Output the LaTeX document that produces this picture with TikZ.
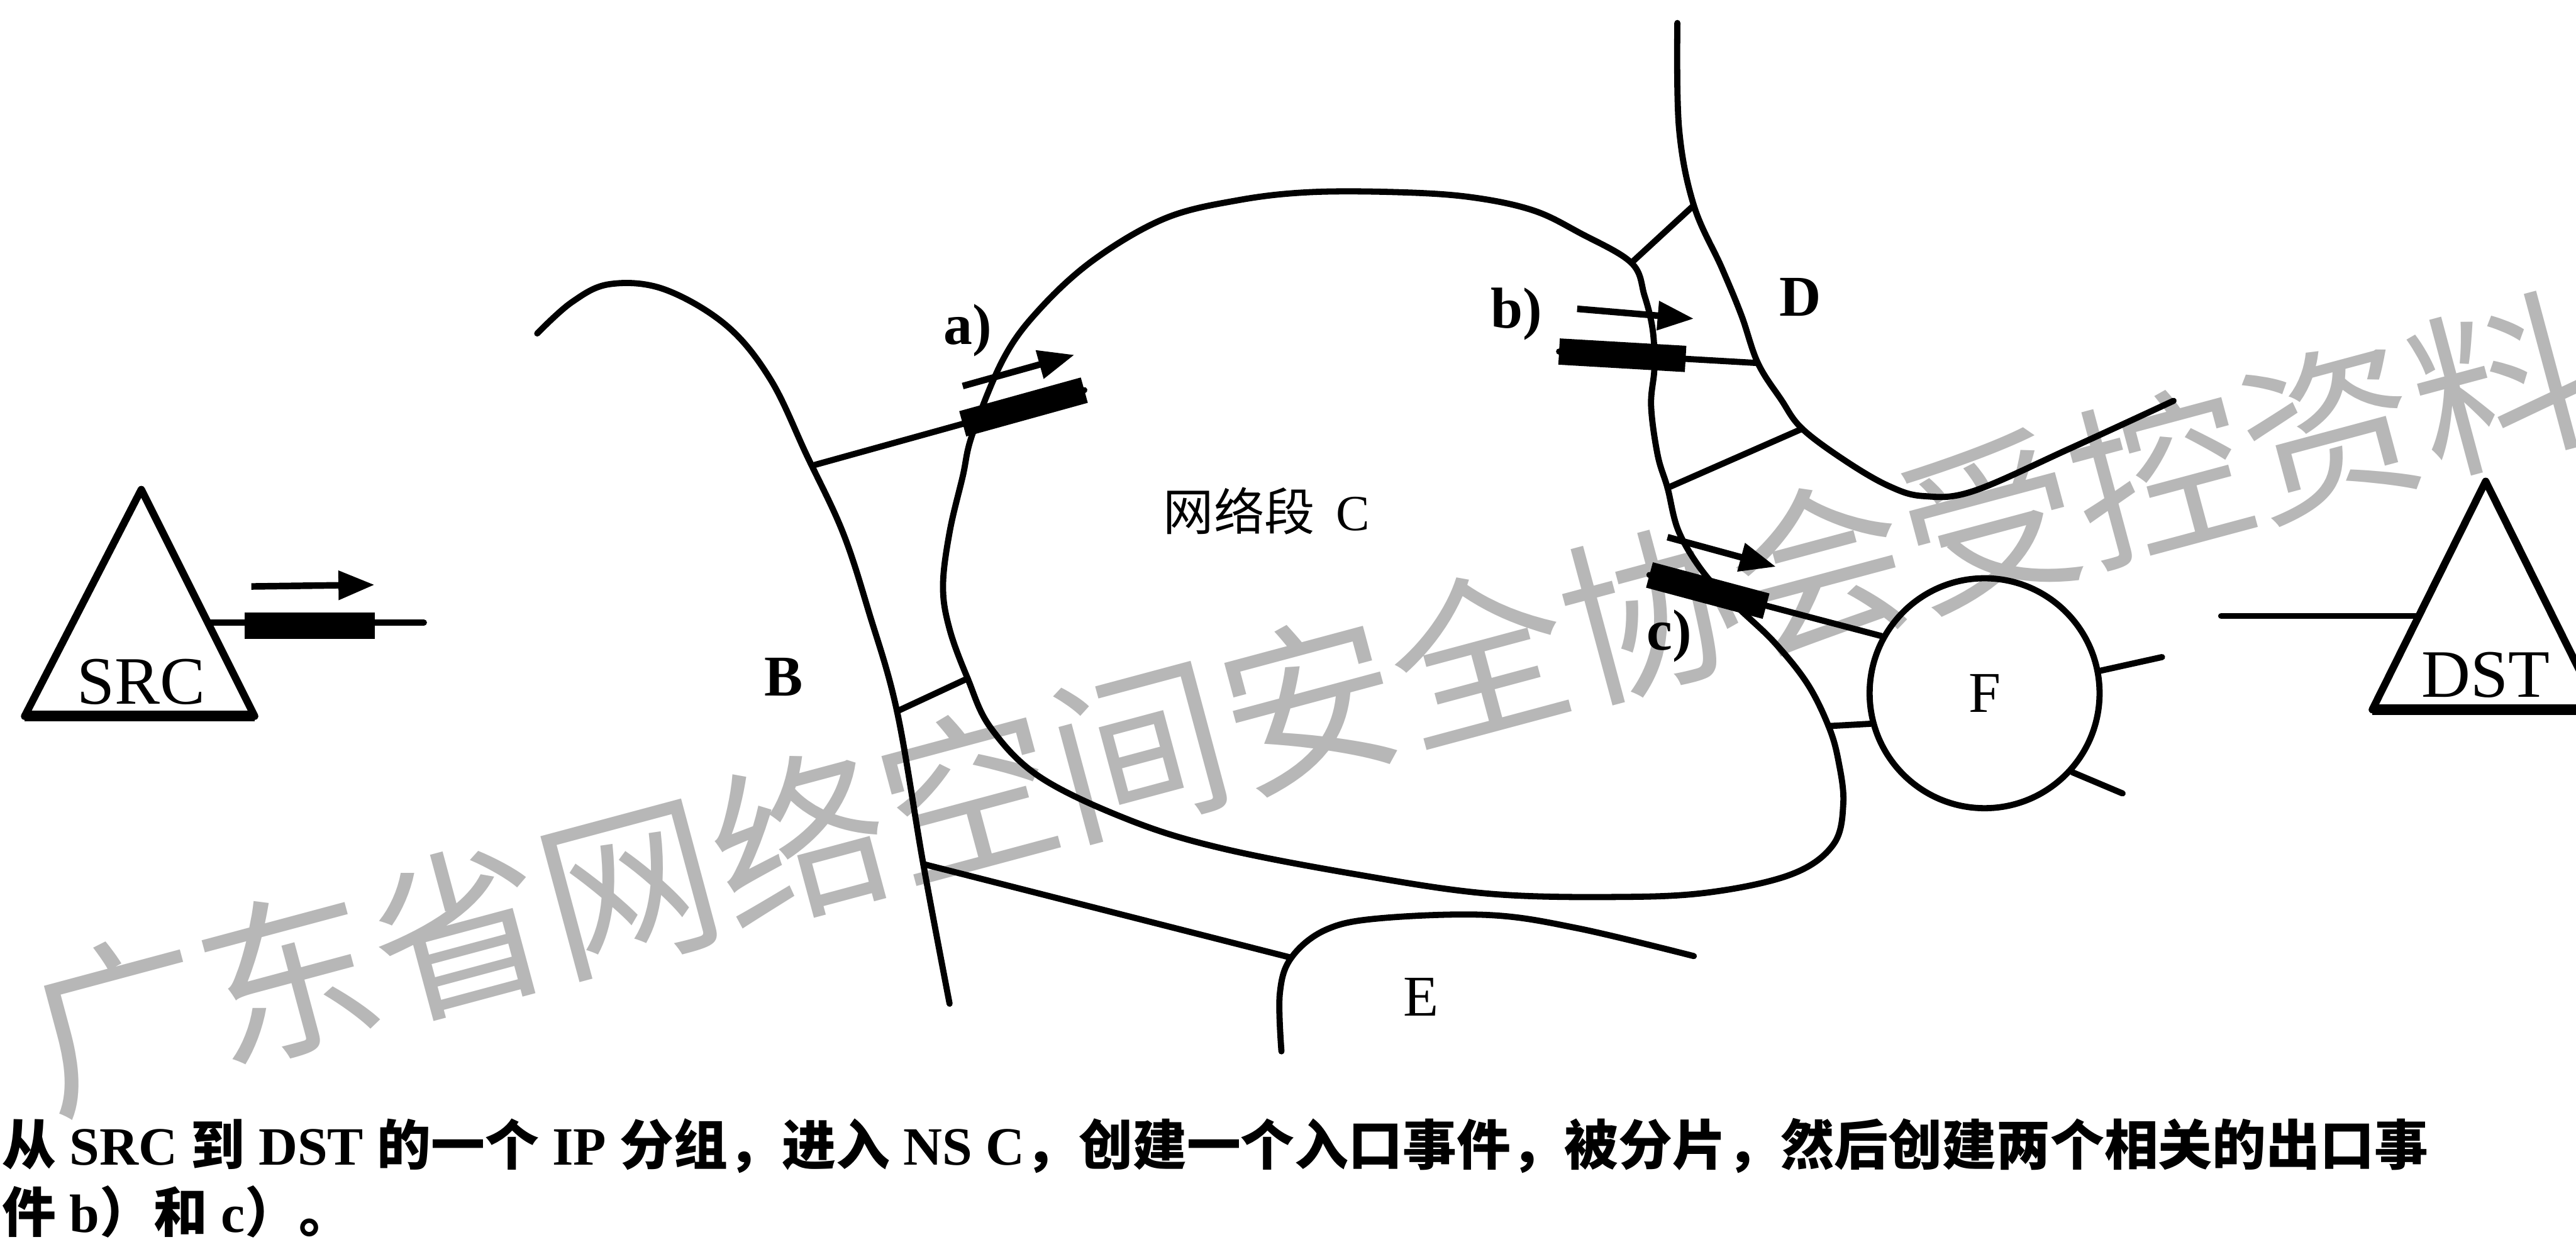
\documentclass[tikz,border=0pt]{standalone}
\usepackage{fontspec}
\setmainfont{Liberation Serif}
\newfontfamily\cjk{Noto Sans CJK SC}
\usetikzlibrary{arrows.meta}
\definecolor{wm}{RGB}{183,183,183}
\newcommand\zh[1]{{\cjk #1}}
\begin{document}
\begin{tikzpicture}[x=0.02cm,y=-0.02cm,
  ln/.style={line width=0.075cm, line cap=round, line join=round},
  trio/.style={line width=0.09cm, line join=round},
  thickbar/.style={line width=0.32cm},
  flow/.style={line width=0.08cm, -{Triangle[length=0.44cm,width=0.34cm]}},
  lab/.style={font=\fontsize{20}{24}\selectfont\bfseries, inner sep=0},
  labr/.style={font=\fontsize{20}{24}\selectfont, inner sep=0},
  ep/.style={font=\fontsize{23.5}{28}\selectfont, inner sep=0},
  captxt/.style={font=\bfseries\fontsize{18.7}{22}\selectfont, inner sep=0, anchor=base west},
  wmk/.style={font=\cjk\fontsize{61}{61}\selectfont, text=wm, inner sep=0}]
\clip (0,0) rectangle (1568,756);
\fill[white] (0,0) rectangle (1568,756);

% watermark
\node[wmk, rotate=15] (wmark) at (797,428) {广东省网络空间安全协会受控资料};

% ---------- SRC ----------
\coordinate (srcA) at (86,298);
\coordinate (srcL) at (15,436);
\coordinate (srcR) at (155,436);
\draw[trio] (srcA) -- (srcL) -- (srcR) -- cycle;
\draw[line width=0.13cm] (srcL) -- (srcR);
\node[ep] (src) at (86,415) {SRC};
\coordinate (srcP) at (126.5,379);
\coordinate (srcE) at (258,379);
\draw[ln] (srcP) -- (srcE);
\draw[thickbar] (149,381) -- (228,381);
\coordinate (srcF1) at (153,357);
\coordinate (srcF2) at (228,356);
\draw[flow] (srcF1) -- (srcF2);

% ---------- DST ----------
\coordinate (dstA) at (1513,293);
\coordinate (dstL) at (1444,432);
\coordinate (dstR) at (1582,432);
\draw[trio] (dstA) -- (dstL) -- (dstR) -- cycle;
\draw[line width=0.13cm] (dstL) -- (dstR);
\node[ep] (dst) at (1513,411) {DST};
\coordinate (dstP) at (1472,375);
\coordinate (dstE) at (1352,375);
\draw[ln] (dstE) -- (dstP);

% ---------- region B ----------
\coordinate (Bj1) at (496,283);
\coordinate (Bj2) at (546,433);
\coordinate (Bj3) at (562,526);
\draw[ln] plot[smooth, tension=0.6] coordinates {(327,203) (348,184) (371,173) (404,176) (442,198) (469,231) (491,277) (513,324) (529,373) (546,433) (562,526) (578,611)};
\node[lab] (B) at (477,412) {B};

% ---------- segment C ----------
\draw[ln] plot[smooth cycle, tension=0.6] coordinates {(592,264) (611,218) (633,188) (666,158) (709,133) (753,122) (797,117) (851,117) (895,120) (933,128) (962,142) (993,160) (1001,180) (1006,201) (1007,224) (1005,247) (1009,277) (1015,297) (1022,324) (1038,350) (1058,370) (1080,391) (1100,416) (1113,442) (1119,463) (1122,489) (1116,514) (1091,532) (1042,543) (987,546) (906,544) (824,532) (742,516) (687,499) (633,473) (603,443) (589,413) (578,383) (574,357) (578,324) (586,290)};
\node[font=\fontsize{17.5}{20}\selectfont, inner sep=0] (segC) at (771,311) {\zh{网络段}\hspace{0.26cm}C};
\coordinate (Cj1) at (993,160);
\coordinate (Cj2) at (1015,297);
\coordinate (Cj3) at (589,413);
\coordinate (Cj4) at (1113,442);

% ---------- region D ----------
\coordinate (Dj1) at (1031,125);
\coordinate (Dj2) at (1070,221);
\coordinate (Dj3) at (1097,261);
\draw[ln] plot[smooth, tension=0.6] coordinates {(1021,14) (1022,78) (1031,125) (1048,163) (1060,192) (1070,221) (1084,243) (1097,261) (1124,281) (1150,296) (1171,302) (1201,299) (1260,273) (1323,244)};
\node[lab] (D) at (1096,181) {D};

% ---------- region E ----------
\coordinate (Ej) at (786,583);
\draw[ln] plot[smooth, tension=0.6] coordinates {(780,640) (779,605) (786,583) (807,566) (840,559) (906,557) (960,565) (1031,582)};
\node[labr] (E) at (865,607) {E};

% ---------- region F ----------
\node[circle, draw, line width=0.075cm, minimum size=2.8cm, inner sep=0, font=\fontsize{20}{24}\selectfont] (F) at (1208,422) {F};
\coordinate (Fr) at (1316,400);
\coordinate (Fb) at (1292,483);

% ---------- connectors ----------
\coordinate (aEnd) at (660,237.5);
\draw[ln] (Bj1) -- (aEnd);
\draw[ln] (Cj3) -- (Bj2);
\draw[ln] (Bj3) -- (Ej);
\draw[ln] (Cj1) -- (Dj1);
\coordinate (bStart) at (949,214);
\draw[ln] (bStart) -- (Dj2);
\draw[ln] (Cj2) -- (Dj3);
\coordinate (cStart) at (1004,350);
\draw[ln] (cStart) -- (F.151);
\draw[ln] (Cj4) -- (F.195);
\draw[ln] (F.11) -- (Fr);
\draw[ln] (F.318) -- (Fb);

% ---------- event a) ----------
\draw[thickbar] (586,258) -- (aEnd);
\coordinate (aF1) at (586,235);
\coordinate (aF2) at (654,216);
\draw[flow] (aF1) -- (aF2);
\node[lab] (la) at (589,201) {a)};

% ---------- event b) ----------
\draw[thickbar] (bStart) -- (1026,218.5);
\coordinate (bF1) at (960,188);
\coordinate (bF2) at (1031,194);
\draw[flow] (bF1) -- (bF2);
\node[lab] (lb) at (923,191) {b)};

% ---------- event c) ----------
\draw[thickbar] (cStart) -- (1075,369);
\coordinate (cF1) at (1015,327);
\coordinate (cF2) at (1081,345);
\draw[flow] (cF1) -- (cF2);
\node[lab] (lc) at (1016,387) {c)};

% ---------- caption ----------
\node[captxt] (cap1) at (1,709) {\zh{从} SRC \zh{到} DST \zh{的一个} IP \zh{分组，进入} NS C\zh{，创建一个入口事件，被分片，然后创建两个相关的出口事}};
\node[captxt] (cap2) at (1,750) {\zh{件} b\zh{）和} c\zh{）。}};
\end{tikzpicture}
\end{document}
